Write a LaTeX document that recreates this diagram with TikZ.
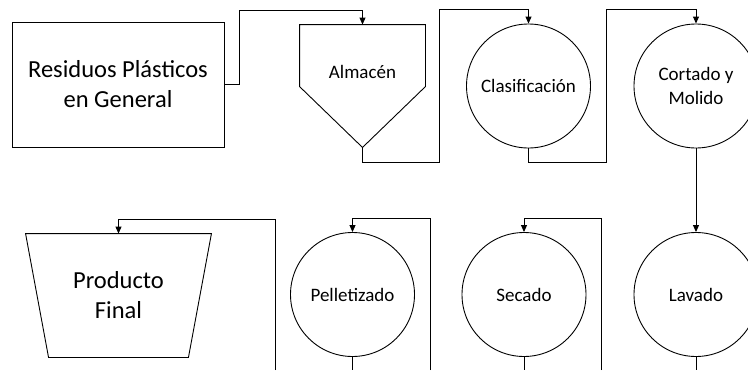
\documentclass[tikz,border=0pt]{standalone}
\usepackage{fontspec}
\setmainfont{Carlito}
\usepackage{tikz}
\usetikzlibrary{arrows.meta,calc,positioning}

\begin{document}
\begin{tikzpicture}[x=1pt,y=-1pt,line width=0.9pt,
  big/.style={font=\fontsize{24.5}{30}\selectfont,align=center},
  sml/.style={font=\fontsize{19}{23.2}\selectfont,align=center},
  proc/.style={draw,circle,minimum size=124,inner sep=0,sml},
  blk/.style={inner sep=0,minimum width=#1},blk/.default=125,
  flow/.style={-{Triangle[length=7pt,width=6pt]}}]
  \useasboundingbox (0,0) rectangle (748,370);
  \clip (0,0) rectangle (748,370);
  % upper row
  \node[draw,big,blk=212,minimum height=125] (res) at (118,84.5) {Residuos Pl\'asticos\\en General};
  \node[blk,minimum height=122] (alm) at (362.5,86) {};
  \draw (alm.north west) -- (alm.north east) -- ([yshift=-62pt]alm.north east) -- (alm.south)
        -- ([yshift=-62pt]alm.north west) -- cycle;
  \node[sml] (almtxt) at ([yshift=-47pt]alm.north) {Almac\'en};
  \node[proc] (cla) at (528.5,86) {Clasificaci\'on};
  \node[proc] (cor) at (696,86) {Cortado y\\Molido};
  % lower row
  \node[proc] (lav) at (696,294.5) {Lavado};
  \node[proc] (sec) at (524,294.5) {Secado};
  \node[proc] (pel) at (352.5,294.5) {Pelletizado};
  \node[big,blk=185,minimum height=123] (prod) at (118.5,295.5) {Producto\\Final};
  \draw (prod.north west) -- (prod.north east) -- ([xshift=-23pt]prod.south east)
        -- ([xshift=23pt]prod.south west) -- cycle;
  % loose ends at the lower edge
  \coordinate (lavout) at (696,370);
  \coordinate (secout) at (524,370);
  \coordinate (secin) at (601,370);
  \coordinate (pelout) at (352.5,370);
  \coordinate (pelin) at (430,370);
  \coordinate (prodin) at (275,370);
  % connectors
  \draw[flow] (res.east) -- ++(15,0) |- ([yshift=14pt]alm.north) -- (alm.north);
  \draw[flow] (alm.south) -- ++(0,15) -- ++(76.5,0) |- ([yshift=14pt]cla.north) -- (cla.north);
  \draw[flow] (cla.south) -- ++(0,14) -- ++(77.5,0) |- ([yshift=14pt]cor.north) -- (cor.north);
  \draw[flow] (cor.south) -- (lav.north);
  \draw (lav.south) -- (lavout);
  \draw (sec.south) -- (secout);
  \draw[flow] (secin) |- ([yshift=14pt]sec.north) -- (sec.north);
  \draw (pel.south) -- (pelout);
  \draw[flow] (pelin) |- ([yshift=14pt]pel.north) -- (pel.north);
  \draw[flow] (prodin) |- ([yshift=14pt]prod.north) -- (prod.north);
\end{tikzpicture}
\end{document}
